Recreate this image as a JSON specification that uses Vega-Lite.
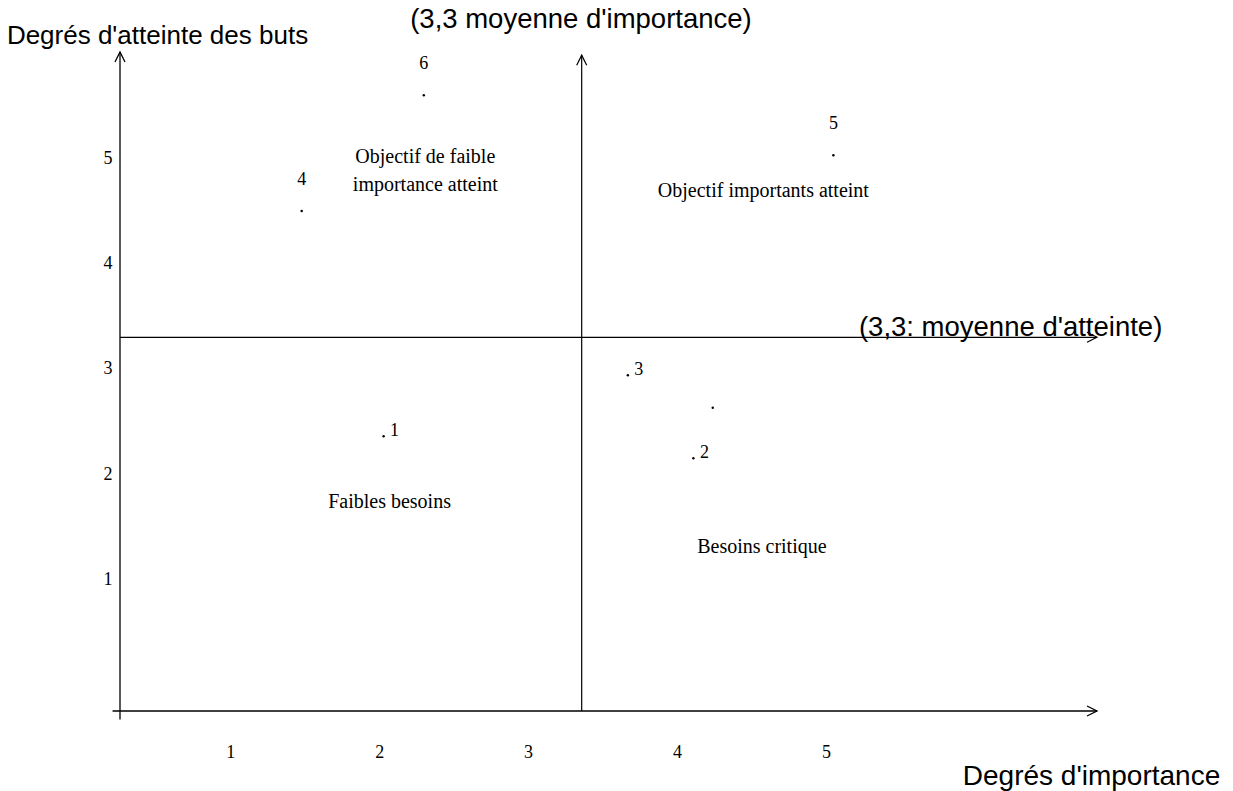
{
  "$schema": "https://vega.github.io/schema/vega-lite/v6.json",
  "width": 977,
  "height": 659,
  "autosize": {"type": "none"},
  "padding": {"left": 120, "top": 52, "right": 136, "bottom": 80},
  "background": "white",
  "config": {"view": {"stroke": null}},
  "datasets": {
    "objectifs": [
      {"objectif": 1, "importance": 2.03, "atteinte": 2.36},
      {"objectif": 2, "importance": 4.11, "atteinte": 2.15},
      {"objectif": 3, "importance": 3.67, "atteinte": 2.94},
      {"objectif": 4, "importance": 1.48, "atteinte": 4.5},
      {"objectif": 5, "importance": 5.05, "atteinte": 5.03},
      {"objectif": 6, "importance": 2.3, "atteinte": 5.6},
      {"objectif": null, "importance": 4.24, "atteinte": 2.63}
    ],
    "zones": [
      {"label": "Objectif de faible\nimportance atteint", "importance": 2.31, "atteinte": 5.01},
      {"label": "Objectif importants atteint", "importance": 4.58, "atteinte": 4.69},
      {"label": "Faibles besoins", "importance": 2.07, "atteinte": 1.74},
      {"label": "Besoins critique", "importance": 4.57, "atteinte": 1.31}
    ],
    "moyennes": [
      {"label": "(3,3 moyenne d'importance)", "importance": 3.355, "atteinte": 6.31},
      {"label": "(3,3: moyenne d'atteinte)", "importance": 6.24, "atteinte": 3.39}
    ]
  },
  "layer": [
    {
      "data": {"name": "objectifs"},
      "mark": {"type": "point", "filled": true, "shape": "circle", "size": 6, "color": "black", "opacity": 1},
      "encoding": {
        "x": {
          "field": "importance", "type": "quantitative",
          "scale": {"domain": [0.26, 6.82], "nice": false, "zero": false},
          "axis": {
            "values": [1, 2, 3, 4, 5], "format": "d", "domain": false, "ticks": false, "tickSize": 0, "grid": false,
            "labelFont": "Liberation Serif", "labelFontSize": 18, "labelColor": "black", "labelPadding": 32,
            "title": "Degrés d'importance", "titleFont": "Liberation Sans", "titleFontSize": 28,
            "titleFontWeight": "normal", "titleColor": "black", "titleX": 971, "titleY": 65,
            "titleAlign": "center", "titleBaseline": "middle", "titleAnchor": null
          }
        },
        "y": {
          "field": "atteinte", "type": "quantitative",
          "scale": {"domain": [-0.25, 6.01], "nice": false, "zero": false},
          "axis": {
            "values": [1, 2, 3, 4, 5], "format": "d", "domain": false, "ticks": false, "tickSize": 0, "grid": false,
            "labelFont": "Liberation Serif", "labelFontSize": 18, "labelColor": "black", "labelPadding": 8,
            "labelAlign": "right", "labelBaseline": "middle",
            "title": "Degrés d'atteinte des buts", "titleFont": "Liberation Sans", "titleFontSize": 26,
            "titleFontWeight": "normal", "titleColor": "black", "titleAngle": 0, "titleX": 37, "titleY": -17,
            "titleAlign": "center", "titleBaseline": "middle", "titleAnchor": null
          }
        }
      }
    },
    {
      "data": {"values": [{}]},
      "mark": {"type": "rule", "color": "black", "strokeWidth": 1.3},
      "encoding": {"x": {"datum": 0.21}, "x2": {"datum": 6.82}, "y": {"datum": -0.25}}
    },
    {
      "data": {"values": [{}]},
      "mark": {"type": "rule", "color": "black", "strokeWidth": 1.3},
      "encoding": {"x": {"datum": 0.26}, "y": {"datum": -0.33}, "y2": {"datum": 6.01}}
    },
    {
      "data": {"values": [{}]},
      "mark": {"type": "rule", "color": "black", "strokeWidth": 1.2},
      "encoding": {"x": {"datum": 0.26}, "x2": {"datum": 6.82}, "y": {"datum": 3.3}}
    },
    {
      "data": {"values": [{}]},
      "mark": {"type": "rule", "color": "black", "strokeWidth": 1.2},
      "encoding": {"x": {"datum": 3.36}, "y": {"datum": -0.25}, "y2": {"datum": 5.98}}
    },
    {
      "data": {"values": [{}]},
      "mark": {"type": "point", "shape": "M-1,-0.5L0,0L-1,0.5", "filled": false, "stroke": "black", "strokeWidth": 1.3, "size": 400, "opacity": 1},
      "encoding": {"x": {"datum": 6.82}, "y": {"datum": -0.25}}
    },
    {
      "data": {"values": [{}]},
      "mark": {"type": "point", "shape": "M-1,-0.5L0,0L-1,0.5", "filled": false, "stroke": "black", "strokeWidth": 1.2, "size": 400, "opacity": 1},
      "encoding": {"x": {"datum": 6.82}, "y": {"datum": 3.3}}
    },
    {
      "data": {"values": [{}]},
      "mark": {"type": "point", "shape": "M-0.5,1L0,0L0.5,1", "filled": false, "stroke": "black", "strokeWidth": 1.3, "size": 400, "opacity": 1},
      "encoding": {"x": {"datum": 0.26}, "y": {"datum": 6.01}}
    },
    {
      "data": {"values": [{}]},
      "mark": {"type": "point", "shape": "M-0.5,1L0,0L0.5,1", "filled": false, "stroke": "black", "strokeWidth": 1.2, "size": 400, "opacity": 1},
      "encoding": {"x": {"datum": 3.36}, "y": {"datum": 5.98}}
    },
    {
      "data": {"name": "objectifs"},
      "transform": [{"filter": "isValid(datum.objectif) && datum.objectif >= 4"}],
      "mark": {"type": "text", "font": "Liberation Serif", "fontSize": 18, "color": "black", "align": "center", "baseline": "middle", "dy": -31},
      "encoding": {
        "x": {"field": "importance", "type": "quantitative"},
        "y": {"field": "atteinte", "type": "quantitative"},
        "text": {"field": "objectif"}
      }
    },
    {
      "data": {"name": "objectifs"},
      "transform": [{"filter": "isValid(datum.objectif) && datum.objectif <= 3"}],
      "mark": {"type": "text", "font": "Liberation Serif", "fontSize": 18, "color": "black", "align": "center", "baseline": "middle", "dx": 11, "dy": -5},
      "encoding": {
        "x": {"field": "importance", "type": "quantitative"},
        "y": {"field": "atteinte", "type": "quantitative"},
        "text": {"field": "objectif"}
      }
    },
    {
      "data": {"name": "zones"},
      "mark": {"type": "text", "font": "Liberation Serif", "fontSize": 20, "color": "black", "align": "center", "baseline": "middle", "lineBreak": "\n", "lineHeight": 28},
      "encoding": {
        "x": {"field": "importance", "type": "quantitative"},
        "y": {"field": "atteinte", "type": "quantitative"},
        "text": {"field": "label"}
      }
    },
    {
      "data": {"name": "moyennes"},
      "mark": {"type": "text", "font": "Liberation Sans", "fontSize": 27.5, "color": "black", "align": "center", "baseline": "middle"},
      "encoding": {
        "x": {"field": "importance", "type": "quantitative"},
        "y": {"field": "atteinte", "type": "quantitative"},
        "text": {"field": "label"}
      }
    }
  ]
}
